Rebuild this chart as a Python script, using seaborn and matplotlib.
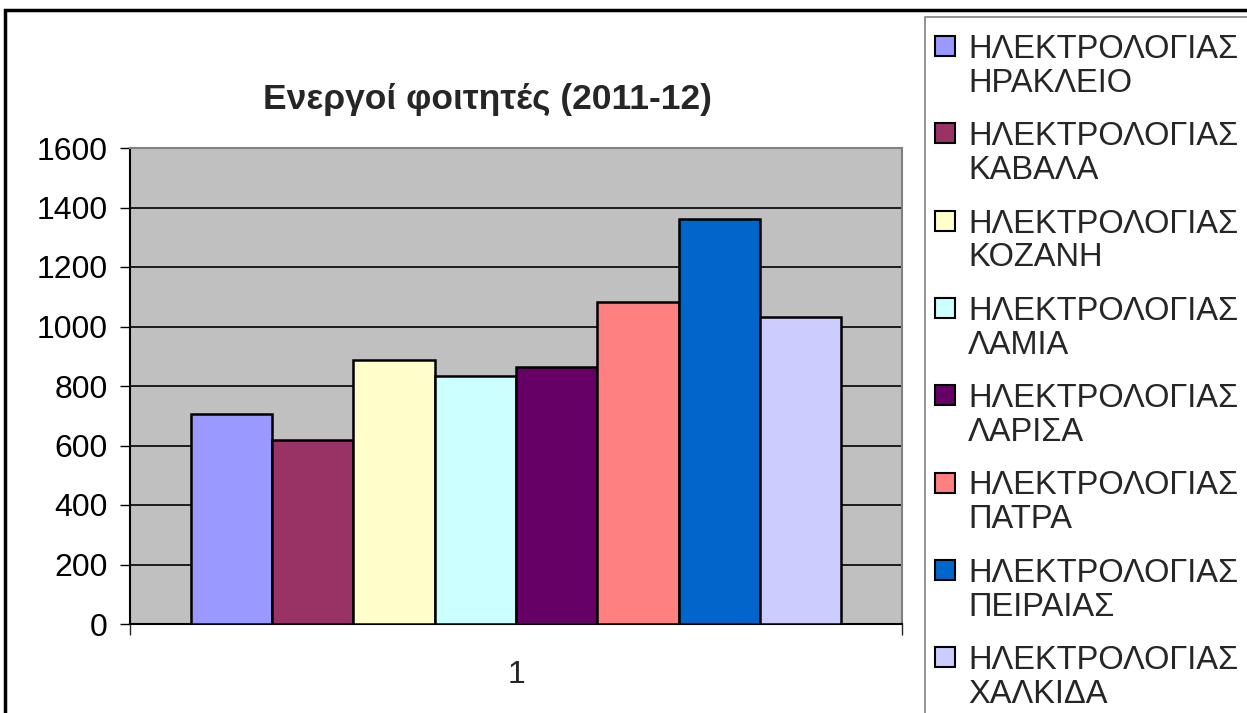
import matplotlib
matplotlib.use("Agg")
import matplotlib.pyplot as plt
import seaborn as sns
import pandas as pd
from matplotlib.patches import Rectangle

# data
departments = [
    "ΗΛΕΚΤΡΟΛΟΓΙΑΣ\nΗΡΑΚΛΕΙΟ",
    "ΗΛΕΚΤΡΟΛΟΓΙΑΣ\nΚΑΒΑΛΑ",
    "ΗΛΕΚΤΡΟΛΟΓΙΑΣ\nΚΟΖΑΝΗ",
    "ΗΛΕΚΤΡΟΛΟΓΙΑΣ\nΛΑΜΙΑ",
    "ΗΛΕΚΤΡΟΛΟΓΙΑΣ\nΛΑΡΙΣΑ",
    "ΗΛΕΚΤΡΟΛΟΓΙΑΣ\nΠΑΤΡΑ",
    "ΗΛΕΚΤΡΟΛΟΓΙΑΣ\nΠΕΙΡΑΙΑΣ",
    "ΗΛΕΚΤΡΟΛΟΓΙΑΣ\nΧΑΛΚΙΔΑ",
]
students = [706, 619, 887, 835, 865, 1081, 1363, 1031]
category = ["1"] * len(departments)
colors = ["#9999FF", "#993366", "#FFFFCC", "#CCFFFF",
          "#660066", "#FF8080", "#0066CC", "#CCCCFF"]

df = pd.DataFrame({"cat": category, "dept": departments, "n": students})

sns.set_style("white")
plt.rcParams["font.family"] = ["Liberation Sans", "DejaVu Sans"]

fig = plt.figure(figsize=(12.47, 7.13), dpi=100)
ax = fig.add_axes([130 / 1247, 1 - 624 / 713, 772 / 1247, 476 / 713])
ax.set_facecolor("#C0C0C0")

sns.barplot(data=df, x="cat", y="n", hue="dept", palette=colors,
            saturation=1, width=0.842, edgecolor="black", linewidth=1.8,
            legend=False, ax=ax, zorder=3)

ax.set_ylim(0, 1600)
ax.set_xlim(-0.5, 0.5)
ax.set_yticks(range(0, 1601, 200))
ax.yaxis.grid(True, color="black", linewidth=1.2, zorder=0)
ax.set_axisbelow(True)
ax.tick_params(axis="y", labelsize=23, length=7, width=1, direction="out",
               left=True, pad=9, colors="black")

ax.set_xticks([-0.5, 0.5])
ax.set_xticklabels(["", ""])
ax.set_xticks([0], minor=True)
ax.set_xticklabels(["1"], minor=True)
ax.tick_params(axis="x", which="major", length=8, width=1, direction="out", bottom=True)
ax.tick_params(axis="x", which="minor", length=0, labelsize=23, pad=26)
ax.set_xlabel("")
ax.set_ylabel("")

for s in ["top", "right"]:
    ax.spines[s].set_color("#808080")
    ax.spines[s].set_linewidth(1.5)
for s in ["left", "bottom"]:
    ax.spines[s].set_color("black")
    ax.spines[s].set_linewidth(1.5)

fig.text(487 / 1247, 1 - 100 / 713, "Ενεργοί φοιτητές (2011-12)",
         ha="center", va="center", fontsize=25.5, fontweight="bold")

# outer chart border
fig.patches.append(Rectangle((5 / 1247, -0.1), 1.2, 1 - 10 / 713 + 0.1,
                             transform=fig.transFigure, fill=False,
                             edgecolor="black", linewidth=2.5))

# legend box
fig.patches.append(Rectangle((925 / 1247, -0.1), 1.0, 1 - 17 / 713 + 0.1,
                             transform=fig.transFigure, fill=False,
                             edgecolor="#808080", linewidth=1.2))
for i, (name, c) in enumerate(zip(departments, colors)):
    yc = 1 - (46 + 87.3 * i) / 713
    fig.patches.append(Rectangle((935 / 1247, yc - 10 / 713), 20 / 1247, 20 / 713,
                                 transform=fig.transFigure, facecolor=c,
                                 edgecolor="black", linewidth=1.5))
    fig.text(968 / 1247, yc + 12 / 713, name, ha="left", va="top",
             fontsize=23.5, linespacing=1.12)

fig.savefig("out.png", dpi=100)
